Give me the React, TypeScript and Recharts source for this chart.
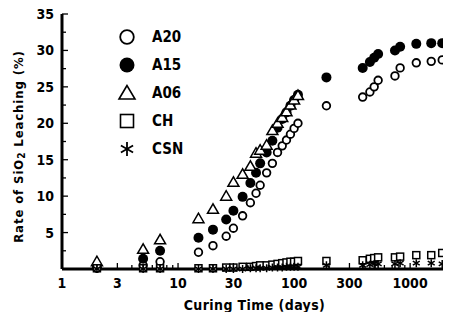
import React from 'react';
import { ScatterChart, Scatter, XAxis, YAxis, Legend } from 'recharts';

const DAYS = [2, 5, 7, 15, 20, 26, 30, 36, 42, 47, 51, 58, 65, 72, 79, 86, 93, 100, 108, 190, 390, 450, 490, 530, 740, 820, 1130, 1520, 1890];
const DAYS_A06 = [2, 5, 7, 15, 20, 26, 30, 36, 42, 47, 51, 58, 65, 72, 79, 86, 93, 100, 108];

const A20 = [0.1, 0.5, 1.0, 2.3, 3.2, 4.5, 5.6, 7.3, 9.1, 10.4, 11.5, 13.2, 14.5, 16.0, 16.9, 17.7, 18.5, 19.3, 20.0, 22.4, 23.6, 24.3, 25.0, 25.9, 26.5, 27.6, 28.3, 28.5, 28.7];
const A15 = [0.2, 1.4, 2.5, 4.3, 5.4, 6.8, 8.0, 9.9, 11.8, 13.2, 14.5, 16.0, 17.6, 19.4, 20.6, 21.5, 22.4, 23.2, 23.9, 26.3, 27.6, 28.4, 29.0, 29.5, 30.0, 30.5, 30.9, 31.0, 31.0];
const A06 = [1.0, 2.7, 4.0, 6.9, 8.2, 10.0, 11.9, 13.0, 14.1, 15.9, 16.3, 17.0, 19.0, 20.0, 20.8, 21.6, 22.5, 23.2, 23.8];
const CH = [0.1, 0.1, 0.1, 0.1, 0.1, 0.2, 0.2, 0.3, 0.3, 0.4, 0.5, 0.5, 0.6, 0.7, 0.8, 0.9, 1.0, 1.0, 1.1, 1.1, 1.2, 1.4, 1.5, 1.6, 1.6, 1.7, 1.9, 1.9, 2.2];
const CSN = [0, 0, 0, 0, 0, 0, 0, 0, 0.1, 0.1, 0.1, 0.1, 0.2, 0.2, 0.2, 0.3, 0.3, 0.3, 0.3, 0.5, 0.5, 0.6, 0.7, 0.7, 0.7, 0.8, 0.8, 0.8, 0.7];

const SERIES_ORDER = ['A20', 'A15', 'A06', 'CH', 'CSN'];
const X_TICKS = [1, 2, 3, 4, 5, 6, 7, 8, 9, 10, 20, 30, 40, 50, 60, 70, 80, 90, 100, 200, 300, 400, 500, 600, 700, 800, 900, 1000, 2000];
const X_LABELS = [1, 3, 10, 30, 100, 300, 1000];
const Y_TICKS = [0, 2.5, 5, 7.5, 10, 12.5, 15, 17.5, 20, 22.5, 25, 27.5, 30, 32.5, 35];

const FONT = '"Liberation Sans Narrow", "DejaVu Sans Condensed", "Arial Narrow", sans-serif';

const pts = (days: number[], vals: number[]) => days.map((d, i) => ({ day: d, v: vals[i] }));

const OpenCircle = (p: any) => <circle cx={p.cx} cy={p.cy} r={3.8} fill="#fff" stroke="#000" strokeWidth={1.8} />;
const FilledCircle = (p: any) => <circle cx={p.cx} cy={p.cy} r={5} fill="#000" />;
const Triangle = (p: any) => (
  <polygon
    points={`${p.cx},${p.cy - 5.5} ${p.cx - 5.5},${p.cy + 4} ${p.cx + 5.5},${p.cy + 4}`}
    fill="#fff"
    stroke="#000"
    strokeWidth={1.5}
  />
);
const Square = (p: any) => <rect x={p.cx - 3.5} y={p.cy - 3.5} width={7} height={7} fill="#fff" stroke="#000" strokeWidth={1.5} />;
const Star = (p: any) => {
  const r = 4;
  return (
    <g stroke="#000" strokeWidth={1.5}>
      <line x1={p.cx} y1={p.cy - r} x2={p.cx} y2={p.cy + r} />
      <line x1={p.cx - r * 0.87} y1={p.cy - r / 2} x2={p.cx + r * 0.87} y2={p.cy + r / 2} />
      <line x1={p.cx - r * 0.87} y1={p.cy + r / 2} x2={p.cx + r * 0.87} y2={p.cy - r / 2} />
    </g>
  );
};

const LegendSymbol = ({ name }: { name: string }) => {
  const c = 12;
  if (name === 'A20') return <circle cx={c} cy={c} r={6.8} fill="#fff" stroke="#000" strokeWidth={1.8} />;
  if (name === 'A15') return <circle cx={c} cy={c} r={7.5} fill="#000" />;
  if (name === 'A06') return <polygon points={`${c},${c - 7.5} ${c - 8},${c + 6} ${c + 8},${c + 6}`} fill="#fff" stroke="#000" strokeWidth={1.6} />;
  if (name === 'CH') return <rect x={c - 6.5} y={c - 6.5} width={13} height={13} fill="#fff" stroke="#000" strokeWidth={1.6} />;
  const r = 7;
  return (
    <g stroke="#000" strokeWidth={1.8}>
      <line x1={c} y1={c - r} x2={c} y2={c + r} />
      <line x1={c - r * 0.87} y1={c - r / 2} x2={c + r * 0.87} y2={c + r / 2} />
      <line x1={c - r * 0.87} y1={c + r / 2} x2={c + r * 0.87} y2={c - r / 2} />
    </g>
  );
};

const renderLegend = (props: any) => {
  const items = [...(props.payload || [])].sort(
    (a: any, b: any) => SERIES_ORDER.indexOf(a.value) - SERIES_ORDER.indexOf(b.value)
  );
  return (
    <div style={{ fontFamily: FONT, fontWeight: 'bold', fontSize: 15 }}>
      {items.map((e: any) => (
        <div key={e.value} style={{ height: 28, display: 'flex', alignItems: 'center' }}>
          <svg width={24} height={24} style={{ marginRight: 13 }}>
            <LegendSymbol name={e.value} />
          </svg>
          <span>{e.value}</span>
        </div>
      ))}
    </div>
  );
};

const XTick = (p: any) => {
  const v = p.payload.value;
  const major = X_LABELS.includes(v);
  return (
    <g>
      <line x1={p.x} y1={p.y} x2={p.x} y2={p.y - (major ? 6 : 4)} stroke="#000" strokeWidth={1.3} />
      {major && (
        <text x={p.x} y={p.y + 19} textAnchor="middle" fontFamily={FONT} fontWeight="bold" fontSize={14} fill="#000">
          {v}
        </text>
      )}
    </g>
  );
};

const YTick = (p: any) => {
  const v = p.payload.value;
  const major = v % 5 === 0;
  return (
    <g>
      <line x1={p.x} y1={p.y} x2={p.x + (major ? 6 : 4)} y2={p.y} stroke="#000" strokeWidth={1.3} />
      {major && v > 0 && (
        <text x={p.x - 8} y={p.y + 5} textAnchor="end" fontFamily={FONT} fontWeight="bold" fontSize={14} fill="#000">
          {v}
        </text>
      )}
    </g>
  );
};

const YTitle = (props: any) => {
  const vb = props.viewBox || { x: 0, y: 10, width: 54, height: 255 };
  const cx = vb.x + 10;
  const cy = vb.y + vb.height / 2 + 5;
  return (
    <text
      x={cx}
      y={cy}
      transform={`rotate(-90, ${cx}, ${cy})`}
      textAnchor="middle"
      dominantBaseline="central"
      fontFamily={FONT}
      fontWeight="bold"
      fontSize={13}
      letterSpacing={0.9}
      fill="#000"
    >
      Rate of SiO<tspan dy={3} fontSize={10}>2</tspan>
      <tspan dy={-3}> Leaching (%)</tspan>
    </text>
  );
};

export default function App() {
  return (
    <div style={{ marginTop: -4 }}>
      <ScatterChart width={443} height={308} margin={{ top: 10, right: 0, left: 0, bottom: 0 }}>
        <XAxis
          dataKey="day"
          type="number"
          scale="log"
          domain={[1, 2250]}
          allowDataOverflow
          ticks={X_TICKS}
          interval={0}
          tick={<XTick />}
          tickLine={false}
          tickSize={0}
          tickMargin={0}
          height={43}
          axisLine={{ stroke: '#000', strokeWidth: 3 }}
          label={{
            value: 'Curing Time (days)',
            position: 'insideBottom',
            offset: 2,
            dx: -2,
            style: { fontFamily: FONT, fontWeight: 'bold', fontSize: 14, letterSpacing: 0.4, fill: '#000' },
          }}
        />
        <YAxis
          dataKey="v"
          type="number"
          domain={[0, 35]}
          ticks={Y_TICKS}
          interval={0}
          tick={<YTick />}
          tickLine={false}
          tickSize={0}
          tickMargin={0}
          width={54}
          axisLine={{ stroke: '#000', strokeWidth: 3 }}
          label={(p: any) => <YTitle {...p} />}
        />
        <Legend
          layout="horizontal"
          align="center"
          verticalAlign="middle"
          content={renderLegend}
          wrapperStyle={{ top: 19, left: 107, width: 'auto' }}
        />
        <Scatter name="A20" data={pts(DAYS, A20)} shape={OpenCircle} isAnimationActive={false} />
        <Scatter name="A15" data={pts(DAYS, A15)} shape={FilledCircle} isAnimationActive={false} />
        <Scatter name="A06" data={pts(DAYS_A06, A06)} shape={Triangle} isAnimationActive={false} />
        <Scatter name="CH" data={pts(DAYS, CH)} shape={Square} isAnimationActive={false} />
        <Scatter name="CSN" data={pts(DAYS, CSN)} shape={Star} isAnimationActive={false} />
      </ScatterChart>
    </div>
  );
}
